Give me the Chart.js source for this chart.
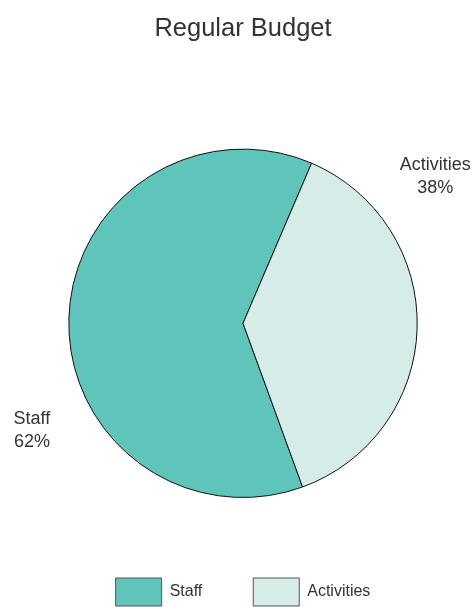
<!DOCTYPE html>
<html>
<head>
<meta charset="utf-8">
<script src="https://cdn.jsdelivr.net/npm/chart.js@4.4.1/dist/chart.umd.min.js"></script>
<style>
  html, body { margin: 0; padding: 0; background: #fff; }
  #wrap { width: 475px; height: 607px; }
</style>
</head>
<body>
<div id="wrap"><canvas id="budgetChart" width="475" height="607"></canvas></div>
<script>
// ==== DATA ====
const categories = ["Staff", "Activities"];
const shares = [62, 38];
const sliceColors = ["#5fc4b9", "#d5ece8"];

const textColor = "#333333";
const fontFamily = "'Liberation Sans', Arial, Helvetica, sans-serif";

// outside labels: angle (deg, clockwise from top) and distance as ratio of radius
const outsideLabels = {
  id: "outsideLabels",
  afterDatasetsDraw(chart, args, opts) {
    const ctx = chart.ctx;
    const meta = chart.getDatasetMeta(0);
    ctx.save();
    ctx.fillStyle = textColor;
    ctx.font = "18px " + fontFamily;
    ctx.textAlign = "center";
    ctx.textBaseline = "middle";
    meta.data.forEach((arc, i) => {
      const pos = opts.positions[i];
      const a = pos.angle * Math.PI / 180;
      const d = arc.outerRadius * pos.dist;
      const x = arc.x + d * Math.sin(a);
      const y = arc.y - d * Math.cos(a);
      ctx.fillText(categories[i], x, y - 11.5);
      ctx.fillText(shares[i] + "%", x, y + 11.5);
    });
    ctx.restore();
  }
};

new Chart(document.getElementById("budgetChart").getContext("2d"), {
  type: "pie",
  data: {
    labels: categories,
    datasets: [
      {
        data: shares,
        backgroundColor: sliceColors,
        borderColor: "#111111",
        borderWidth: 1
      }
    ]
  },
  options: {
    responsive: false,
    animation: false,
    rotation: 160,
    layout: {
      padding: { top: 0, bottom: -9, left: 11, right: 0 }
    },
    plugins: {
      title: {
        display: true,
        text: "Regular Budget",
        color: textColor,
        font: { family: fontFamily, size: 25.5, weight: "normal" },
        padding: { top: 14, bottom: 104 }
      },
      legend: {
        position: "bottom",
        title: {
          display: true,
          text: " ",
          font: { size: 10 },
          padding: { top: 17, bottom: 0 }
        },
        labels: {
          color: textColor,
          font: { family: fontFamily, size: 16 },
          boxWidth: 46,
          boxHeight: 28,
          padding: 51,
          generateLabels(chart) {
            return categories.map((c, i) => ({
              text: c,
              fillStyle: sliceColors[i],
              strokeStyle: "#555555",
              fontColor: textColor,
              lineWidth: 1,
              index: i
            }));
          }
        }
      },
      tooltip: { enabled: false },
      outsideLabels: {
        positions: [
          { angle: 243, dist: 1.36 },
          { angle: 52.6, dist: 1.39 }
        ]
      }
    }
  },
  plugins: [outsideLabels]
});
</script>
</body>
</html>
